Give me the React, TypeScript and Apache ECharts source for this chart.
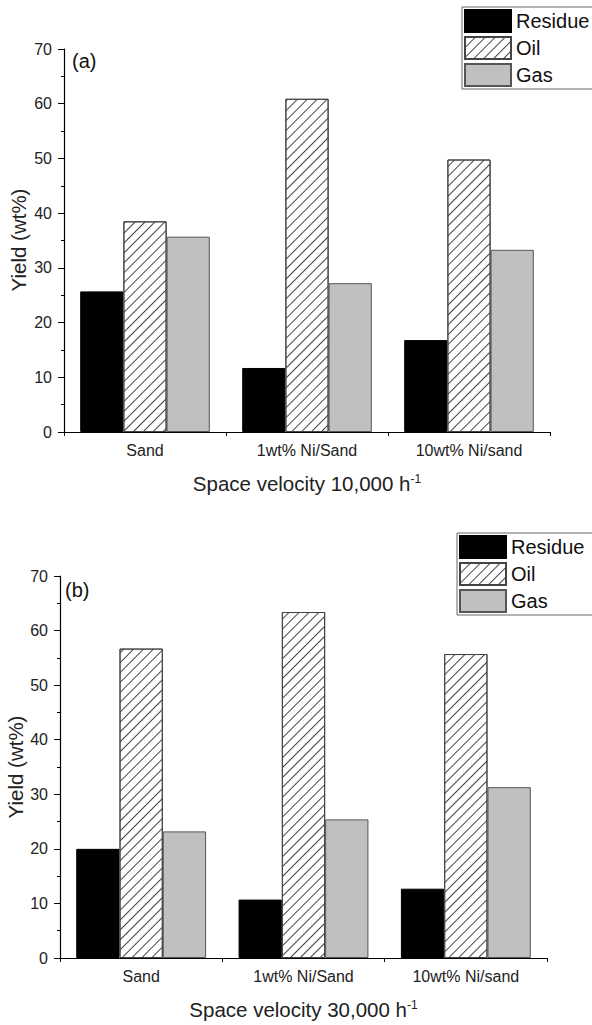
import React, { useEffect, useRef } from "react";
import * as echarts from "echarts";

const categories = ["Sand", "1wt% Ni/Sand", "10wt% Ni/sand"];
const residueA = [25.7, 11.7, 16.8];
const oilA = [38.5, 60.9, 49.8];
const gasA = [35.7, 27.2, 33.3];
const residueB = [20.0, 10.7, 12.7];
const oilB = [56.7, 63.4, 55.7];
const gasB = [23.2, 25.4, 31.3];
const seriesNames = ["Residue", "Oil", "Gas"];
const yTicks = { min: 0, max: 70, interval: 10 };
const yTitle = "Yield (wt%)";

const FONT = "Liberation Sans, Arial, sans-serif";

export default function App() {
  const ref = useRef<HTMLDivElement>(null);
  useEffect(() => {
    if (!ref.current) return;
    const chart = echarts.init(ref.current, null, { renderer: "svg" });
    const hatch = {
      symbol: "rect",
      symbolSize: 1,
      color: "#444",
      backgroundColor: "#ffffff",
      dashArrayX: [1, 0],
      dashArrayY: [1, 6],
      rotation: -Math.PI / 4,
    };
    const styles = [
      { color: "#000000", borderColor: "#000000", borderWidth: 1 },
      { color: "#ffffff", borderColor: "#444", borderWidth: 1, decal: hatch },
      { color: "#c0c0c0", borderColor: "#555", borderWidth: 1 },
    ];
    const grids = [
      { left: 64, right: 42, top: 49, height: 383, containLabel: false, outerBoundsMode: "none" },
      { left: 60, right: 45, top: 576, height: 382, containLabel: false, outerBoundsMode: "none" },
    ];
    const xTitles = ["Space velocity 10,000 h{sup|-1}", "Space velocity 30,000 h{sup|-1}"];
    const xAxis: any[] = [];
    const yAxis: any[] = [];
    [0, 1].forEach((g) => {
      xAxis.push({
        type: "category",
        gridIndex: g,
        data: categories,
        axisLine: { lineStyle: { color: "#000", width: 1.2 } },
        axisTick: { alignWithLabel: true, length: 5, lineStyle: { color: "#000" } },
        axisLabel: { fontFamily: FONT, fontSize: 16, color: "#222", margin: 10 },
        name: xTitles[g],
        nameLocation: "middle",
        nameGap: 41,
        nameTextStyle: {
          fontFamily: FONT,
          fontSize: 20.5,
          color: "#222",
          rich: { sup: { fontFamily: FONT, fontSize: 12, verticalAlign: "top", color: "#222", padding: [0, 0, 9, 0] } },
        },
      });
      xAxis.push({
        type: "category",
        gridIndex: g,
        data: categories,
        position: "bottom",
        axisLine: { show: false },
        axisTick: { show: true, length: 4, lineStyle: { color: "#000" } },
        axisLabel: { show: false },
      });
      yAxis.push({
        type: "value",
        gridIndex: g,
        min: yTicks.min,
        max: yTicks.max,
        interval: yTicks.interval,
        splitLine: { show: false },
        axisLine: { show: true, lineStyle: { color: "#000", width: 1.2 } },
        axisTick: { show: true, length: 6, lineStyle: { color: "#000" } },
        minorTick: { show: true, splitNumber: 2, length: 3, lineStyle: { color: "#000" } },
        axisLabel: { fontFamily: FONT, fontSize: 16, color: "#222", margin: 12 },
      });
    });
    const dataSets = [
      [residueA, oilA, gasA],
      [residueB, oilB, gasB],
    ];
    const series: any[] = [];
    [0, 1].forEach((g) => {
      seriesNames.forEach((name, i) => {
        series.push({
          type: "bar",
          name,
          xAxisIndex: g * 2,
          yAxisIndex: g,
          data: dataSets[g][i],
          barGap: "0%",
          barCategoryGap: "20%",
          itemStyle: styles[i],
        });
      });
    });
    const legendBase = {
      orient: "vertical",
      data: seriesNames,
      itemWidth: 46,
      itemHeight: 22,
      itemGap: 3,
      borderColor: "#666",
      borderWidth: 1,
      borderRadius: 0,
      padding: [2, 20, 2, 2],
      selectedMode: false,
      textStyle: { fontFamily: FONT, fontSize: 20, color: "#111", padding: [0, 0, 0, 0] },
      icon: "rect",
    };
    const yTitleStyle = {
      text: yTitle,
      fontFamily: FONT,
      fontSize: 20.5,
      fill: "#222",
      textAlign: "center",
      textVerticalAlign: "middle",
    };
    chart.setOption({
      animation: false,
      backgroundColor: "#ffffff",
      grid: grids,
      xAxis,
      yAxis,
      series,
      legend: [
        { ...legendBase, left: 462, top: 7 },
        { ...legendBase, left: 457, top: 533 },
      ],
      graphic: [
        { type: "text", left: 72, top: 51, style: { text: "(a)", fontFamily: FONT, fontSize: 20, fill: "#111" } },
        { type: "text", left: 65, top: 580, style: { text: "(b)", fontFamily: FONT, fontSize: 20, fill: "#111" } },
        { type: "text", x: 18, y: 240, rotation: Math.PI / 2, style: yTitleStyle },
        { type: "text", x: 15, y: 767, rotation: Math.PI / 2, style: yTitleStyle },
      ],
    });
    return () => chart.dispose();
  }, []);
  return (
    <div
      ref={ref}
      style={{ position: "absolute", left: 0, top: 0, width: 592, height: 1025 }}
    />
  );
}
